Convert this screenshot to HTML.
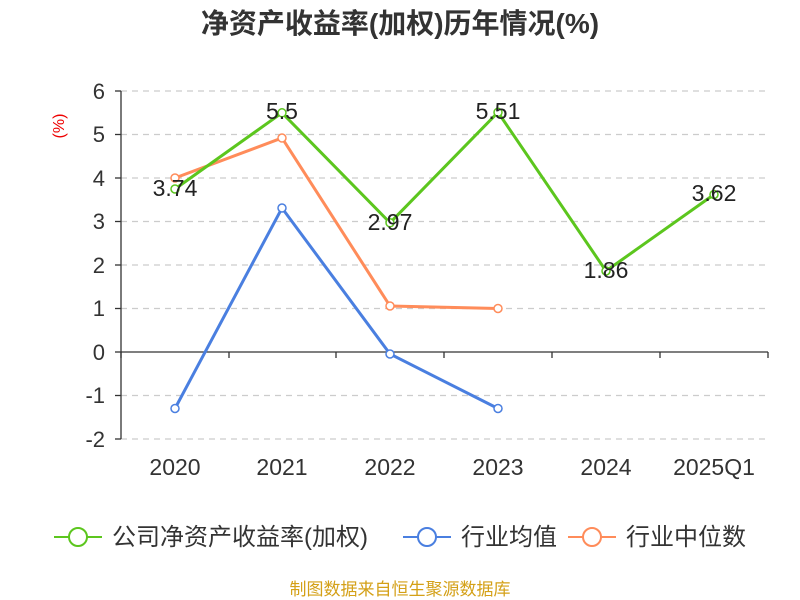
<!DOCTYPE html>
<html><head><meta charset="utf-8"><style>
html,body{margin:0;padding:0;background:#fff;}
svg{display:block;font-family:"Liberation Sans","Noto Sans CJK SC",sans-serif;}
</style></head><body>
<svg width="800" height="600" viewBox="0 0 800 600">
<text x="400" y="33" text-anchor="middle" font-size="28" font-weight="bold" fill="#333">净资产收益率(加权)历年情况(%)</text>
<text x="64" y="126" font-size="16" fill="#e00" transform="rotate(-90 64 126)" text-anchor="middle">(%)</text>
<g stroke="#ccc" stroke-dasharray="6,5" stroke-width="1.3">
<line x1="121" x2="768" y1="91" y2="91"/><line x1="121" x2="768" y1="134.5" y2="134.5"/>
<line x1="121" x2="768" y1="178" y2="178"/><line x1="121" x2="768" y1="221.5" y2="221.5"/>
<line x1="121" x2="768" y1="265" y2="265"/><line x1="121" x2="768" y1="308.5" y2="308.5"/>
<line x1="121" x2="768" y1="395.5" y2="395.5"/><line x1="121" x2="768" y1="439" y2="439"/>
</g>
<g stroke="#333" stroke-width="1.3">
<line x1="121" x2="121" y1="91" y2="439"/>
<line x1="121" x2="768" y1="352" y2="352"/>
<line x1="115" x2="121" y1="91" y2="91"/><line x1="115" x2="121" y1="134.5" y2="134.5"/>
<line x1="115" x2="121" y1="178" y2="178"/><line x1="115" x2="121" y1="221.5" y2="221.5"/>
<line x1="115" x2="121" y1="265" y2="265"/><line x1="115" x2="121" y1="308.5" y2="308.5"/>
<line x1="115" x2="121" y1="352" y2="352"/><line x1="115" x2="121" y1="395.5" y2="395.5"/>
<line x1="115" x2="121" y1="439" y2="439"/>
<line x1="121" x2="121" y1="352" y2="358"/><line x1="229" x2="229" y1="352" y2="358"/>
<line x1="336" x2="336" y1="352" y2="358"/><line x1="444" x2="444" y1="352" y2="358"/>
<line x1="552" x2="552" y1="352" y2="358"/><line x1="660" x2="660" y1="352" y2="358"/>
<line x1="768" x2="768" y1="352" y2="358"/>
</g>
<g font-size="22" fill="#333" text-anchor="end">
<text x="105" y="99">6</text><text x="105" y="142">5</text><text x="105" y="186">4</text>
<text x="105" y="229">3</text><text x="105" y="273">2</text><text x="105" y="316">1</text>
<text x="105" y="360">0</text><text x="105" y="403">-1</text><text x="105" y="447">-2</text>
</g>
<g font-size="23" fill="#333" text-anchor="middle">
<text x="175" y="475">2020</text><text x="282" y="475">2021</text><text x="390" y="475">2022</text>
<text x="498" y="475">2023</text><text x="606" y="475">2024</text><text x="714" y="475">2025Q1</text>
</g>
<polyline fill="none" stroke="#ff8c5a" stroke-width="3" points="175,178 282,138 390,306 498,308.5"/>
<polyline fill="none" stroke="#4a7fe0" stroke-width="3" points="175,408.5 282,208 390,354 498,408.5"/>
<polyline fill="none" stroke="#5cc61e" stroke-width="3" points="175,189 282,112.8 390,222.8 498,112.3 606,271 714,194.5"/>
<g fill="#fff" stroke-width="1.5">
<g stroke="#ff8c5a"><circle cx="175" cy="178" r="4"/><circle cx="282" cy="138" r="4"/><circle cx="390" cy="306" r="4"/><circle cx="498" cy="308.5" r="4"/></g>
<g stroke="#4a7fe0"><circle cx="175" cy="408.5" r="4"/><circle cx="282" cy="208" r="4"/><circle cx="390" cy="354" r="4"/><circle cx="498" cy="408.5" r="4"/></g>
<g stroke="#5cc61e"><circle cx="175" cy="189" r="4"/><circle cx="282" cy="112.8" r="4"/><circle cx="390" cy="222.8" r="4"/><circle cx="498" cy="112.3" r="4"/><circle cx="606" cy="271" r="4"/><circle cx="714" cy="194.5" r="4"/></g>
</g>
<g font-size="23" fill="#222" text-anchor="middle">
<text x="175" y="196">3.74</text><text x="282" y="119">5.5</text><text x="390" y="230">2.97</text>
<text x="498" y="119">5.51</text><text x="606" y="278">1.86</text><text x="714" y="201">3.62</text>
</g>
<g stroke-width="2" fill="#fff">
<line x1="54" x2="102" y1="537" y2="537" stroke="#5cc61e"/><circle cx="78" cy="537" r="9" stroke="#5cc61e"/>
<line x1="403" x2="451" y1="537" y2="537" stroke="#4a7fe0"/><circle cx="427" cy="537" r="9" stroke="#4a7fe0"/>
<line x1="568" x2="616" y1="537" y2="537" stroke="#ff8c5a"/><circle cx="592" cy="537" r="9" stroke="#ff8c5a"/>
</g>
<g font-size="24" fill="#333">
<text x="112" y="545">公司净资产收益率(加权)</text>
<text x="461" y="545">行业均值</text>
<text x="626" y="545">行业中位数</text>
</g>
<text x="400" y="595" text-anchor="middle" font-size="17" fill="#d4a017">制图数据来自恒生聚源数据库</text>
</svg>
</body></html>
